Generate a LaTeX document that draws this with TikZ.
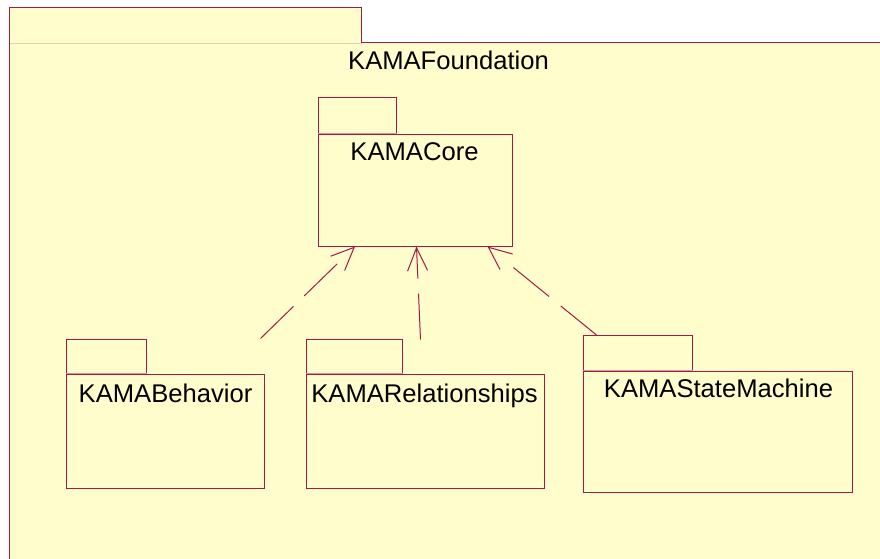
\documentclass[tikz,border=0pt]{standalone}
\usepackage{fontspec}
\setmainfont{Liberation Sans}
\usetikzlibrary{arrows.meta}
\definecolor{pkgfill}{RGB}{255,253,204}
\definecolor{pkgline}{RGB}{165,25,70}
\definecolor{tabsep}{RGB}{232,205,175}
\definecolor{tabsepin}{RGB}{215,150,155}
\tikzset{
  pkgbody/.style={draw=pkgline, fill=pkgfill, line width=1pt, inner sep=0pt, anchor=north west},
  pkgtab/.style={draw=pkgline, fill=pkgfill, line width=1pt, inner sep=0pt, anchor=south west},
  pkglabel/.style={font=\fontsize{25.6}{30}\selectfont, text=black, inner sep=0pt, anchor=base},
  dep/.style={draw=pkgline, line width=1pt, dash pattern=on 46pt off 15pt,
              -{Straight Barb[length=23pt, width=20pt, line width=1pt]}},
  deplong/.style={dep, dash pattern=on 46pt off 15pt on 46pt off 60pt}
}
\begin{document}
\begin{tikzpicture}[x=1pt, y=-1pt]
\useasboundingbox (0,0) rectangle (880,559);
\begin{scope}[shift={(0.5,0.5)}]
\begin{scope}
\clip (-0.5,-0.5) rectangle (879.5,558.5);
% enclosing package KAMAFoundation
\fill[pkgfill] (9,7) rectangle (361,43);
\fill[pkgfill] (9,42) rectangle (900,580);
\draw[tabsep, line width=1pt] (9.5,43) -- (361,43);
\draw[pkgline, line width=1pt] (9,580) -- (9,7) -- (361,7) -- (361,42) -- (900,42);
\end{scope}
\node[pkglabel] (found) at (448,69) {KAMAFoundation};

% KAMACore
\node[pkgbody, minimum width=194pt, minimum height=112pt] (core) at (317,133) {};
\node[pkgtab, minimum width=78pt, minimum height=35pt] (coretab) at (core.north west) {};
\draw[tabsepin, line width=1pt] (coretab.south west) -- (coretab.south east);
\node[pkglabel] (coreT) at (414,160) {KAMACore};

% KAMABehavior
\node[pkgbody, minimum width=198pt, minimum height=114pt] (beh) at (65,373) {};
\node[pkgtab, minimum width=80pt, minimum height=34pt] (behtab) at (beh.north west) {};
\draw[tabsepin, line width=1pt] (behtab.south west) -- (behtab.south east);
\node[pkglabel] (behT) at (165,402) {KAMABehavior};

% KAMARelationships
\node[pkgbody, minimum width=238pt, minimum height=114pt] (rel) at (305,373) {};
\node[pkgtab, minimum width=96pt, minimum height=34pt] (reltab) at (rel.north west) {};
\draw[tabsepin, line width=1pt] (reltab.south west) -- (reltab.south east);
\node[pkglabel] (relT) at (424,402) {KAMARelationships};

% KAMAStateMachine
\node[pkgbody, minimum width=269pt, minimum height=121pt] (sm) at (582,370) {};
\node[pkgtab, minimum width=109pt, minimum height=35pt] (smtab) at (sm.north west) {};
\draw[tabsepin, line width=1pt] (smtab.south west) -- (smtab.south east);
\node[pkglabel] (smT) at (718,397) {KAMAStateMachine};

% dependency ends
\coordinate (behSrc) at (260,338);
\coordinate (relSrc) at (420,339);
\coordinate (smSrc) at (596,334.5);
\coordinate (coreL) at (354.5,246);
\coordinate (coreM) at (416,246);
\coordinate (coreR) at (487,246);

\draw[deplong] (behSrc) -- (coreL);
\draw[dep] (relSrc) -- (coreM);
\draw[deplong] (smSrc) -- (coreR);
\end{scope}
\end{tikzpicture}
\end{document}
